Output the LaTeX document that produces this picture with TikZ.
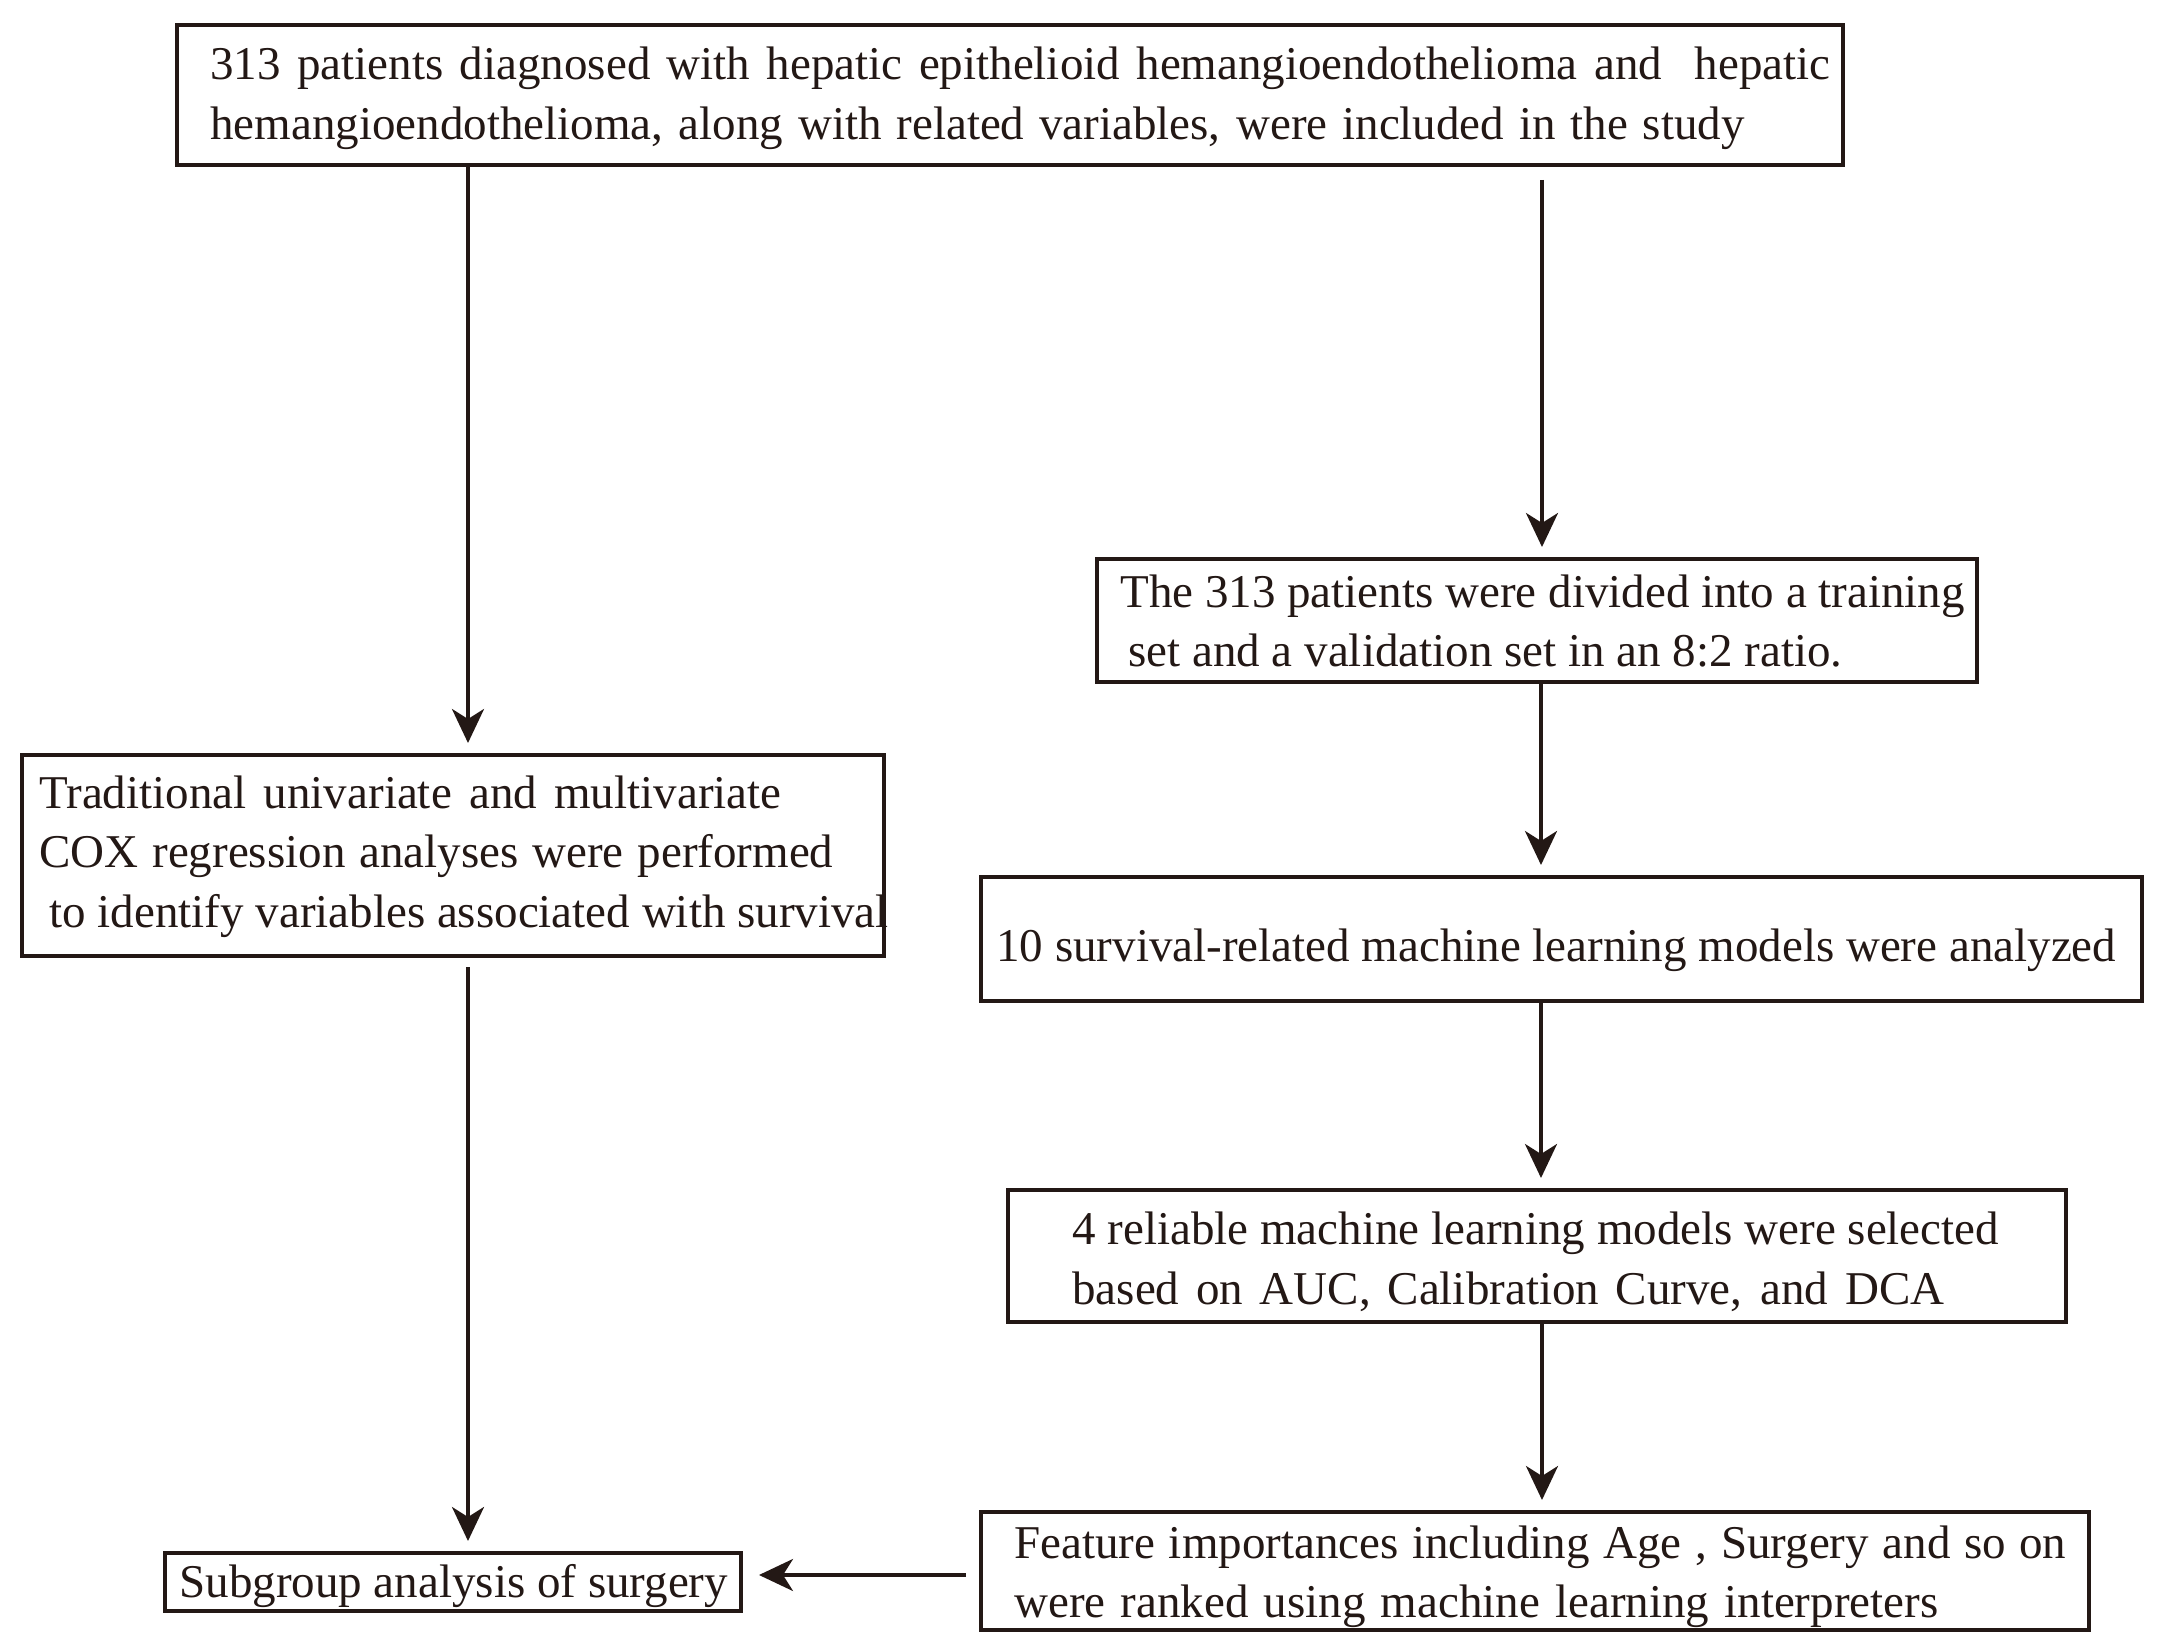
\documentclass[tikz,border=0pt]{standalone}
\usepackage{fontspec}
\setmainfont{Liberation Serif}
\usetikzlibrary{arrows.meta}
\definecolor{ink}{RGB}{35,24,21}
\newcommand{\fitline}[2]{\makebox[#1][s]{#2}}
\begin{document}
\begin{tikzpicture}[x=0.5pt,y=-0.5pt,
  box/.style={draw=ink, line width=2pt, fill=white, inner sep=0pt, rectangle},
  txt/.style={anchor=base west, inner sep=0pt, text=ink, font=\fontsize{23.5pt}{29.5pt}\selectfont},
  conn/.style={draw=ink, line width=1.8pt, -{Stealth[length=17pt,width=16pt,inset=5pt]}, shorten >=5pt}
]
\useasboundingbox (0,0) rectangle (2160,1648);

% boxes
\node[box, minimum width=833pt, minimum height=70pt] (top) at (1010,95) {};
\node[box, minimum width=440pt, minimum height=61.5pt] (split) at (1537,620.5) {};
\node[box, minimum width=580.5pt, minimum height=62pt] (ten) at (1561.5,939) {};
\node[box, minimum width=529pt, minimum height=66pt] (four) at (1537,1256) {};
\node[box, minimum width=554pt, minimum height=59pt] (feat) at (1535,1571) {};
\node[box, minimum width=431pt, minimum height=100.5pt] (cox) at (453,855.5) {};
\node[box, minimum width=288pt, minimum height=29pt] (sub) at (453,1582) {};

% texts
\node[txt] (t1a) at (210,80) {\fitline{810pt}{313 patients diagnosed with hepatic epithelioid hemangioendothelioma and\ \ hepatic}};
\node[txt] (t1b) at (210,140) {\fitline{767pt}{hemangioendothelioma, along with related variables, were included in the study}};
\node[txt] (t2a) at (1120,607) {The 313 patients were divided into a training};
\node[txt] (t2b) at (1128,666) {set and a validation set in an 8:2 ratio.};
\node[txt] (t3) at (996,961) {10 survival-related machine learning models were analyzed};
\node[txt] (t4a) at (1072,1244) {4 reliable machine learning models were selected};
\node[txt] (t4b) at (1072,1304) {\fitline{436pt}{based on AUC, Calibration Curve, and DCA}};
\node[txt] (t5a) at (1014,1558) {\fitline{526pt}{Feature importances including Age , Surgery and so on}};
\node[txt] (t5b) at (1014,1617) {\fitline{462pt}{were ranked using machine learning interpreters}};
\node[txt] (tca) at (39,808) {\fitline{371pt}{Traditional univariate and multivariate}};
\node[txt] (tcb) at (39,867) {\fitline{397pt}{COX regression analyses were performed}};
\node[txt] (tcc) at (49,927) {to identify variables associated with survival};
\node[txt] (ts) at (179,1597) {Subgroup analysis of surgery};

% connectors
\coordinate (rstart) at (1542,180);
\coordinate (cstart) at (468,967);
\coordinate (fstart) at (966,1575);
\draw[conn] (top.south -| 468,0) -- (cox.north -| 468,0);
\draw[conn] (rstart) -- (rstart |- split.north);
\draw[conn] (split.south -| 1541,0) -- (ten.north -| 1541,0);
\draw[conn] (ten.south -| 1541,0) -- (four.north -| 1541,0);
\draw[conn] (four.south -| 1542,0) -- (feat.north -| 1542,0);
\draw[conn] (cstart) -- (cstart |- sub.north);
\draw[conn, shorten >=8pt] (fstart) -- (fstart -| sub.east);
\end{tikzpicture}
\end{document}
